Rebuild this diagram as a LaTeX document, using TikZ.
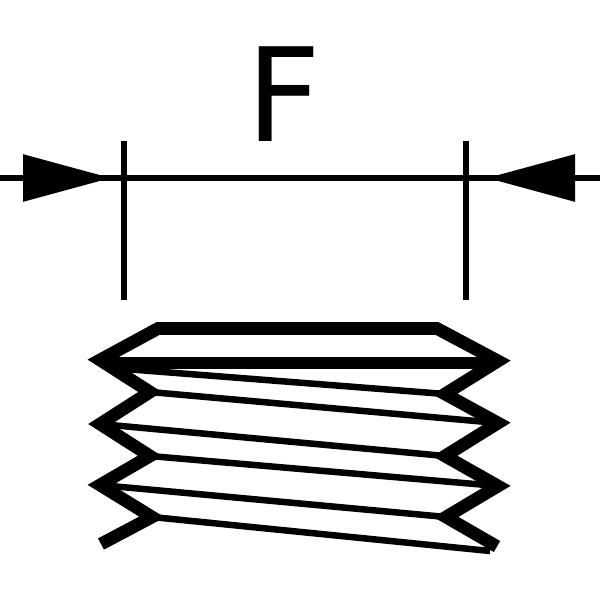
\documentclass[tikz,border=0pt]{standalone}
\usepackage{fontspec}
\setmainfont{DejaVu Sans}
\usetikzlibrary{arrows.meta}
\tikzset{
    dimline/.style={line width=6pt},
    dimarrow/.style={line width=6pt, -{Triangle[length=88pt, width=46pt]}},
    threadline/.style={line width=6.5pt},
    outline/.style={line width=12.7pt, miter limit=10},
}
\begin{document}
\begin{tikzpicture}[x=1pt, y=-1pt]
            \useasboundingbox (0,0) rectangle (608,605);

            \node[inner sep=0pt, font=\fontsize{130}{130}\selectfont] (F) at (284,94.5) {F};

            \coordinate (w) at (0,178);
            \coordinate (e) at (600,178);
            \coordinate (t1) at (111,178);
            \coordinate (t2) at (487,178);
            \coordinate (a1) at (124,141);
            \coordinate (b1) at (124,300);
            \coordinate (a2) at (466,141);
            \coordinate (b2) at (466,300);

            \draw[dimline] (w) -- (e);
            \draw[dimarrow] (w) -- (t1);
            \draw[dimarrow] (e) -- (t2);
            \draw[dimline] (a1) -- (b1);
            \draw[dimline] (a2) -- (b2);

            \coordinate (l0) at (158,328.5);
            \coordinate (l1) at (100,360);
            \coordinate (l2) at (150,392);
            \coordinate (l3) at (100,424);
            \coordinate (l4) at (150,456);
            \coordinate (l5) at (100,485);
            \coordinate (l6) at (152,517);
            \coordinate (l7) at (101,544);

            \coordinate (r0) at (437,328.5);
            \coordinate (r1) at (498,361);
            \coordinate (r2) at (445,394);
            \coordinate (r3) at (498,423);
            \coordinate (r4) at (445,456);
            \coordinate (r5) at (498,486);
            \coordinate (r6) at (446,517);
            \coordinate (r7) at (497,546.5);

            \coordinate (s0) at (125,369);
            \coordinate (s1) at (490,551);

            \draw[threadline] (s0) -- (r2);
            \draw[threadline] (l2) -- (r3);
            \draw[threadline] (l3) -- (r4);
            \draw[threadline] (l4) -- (r5);
            \draw[threadline] (l5) -- (r6);
            \draw[threadline] (l6) -- (s1);

            \draw[outline] (l1) ++(12,3) -- (486,363);
            \draw[outline] (l7) -- (l6) -- (l5) -- (l4) -- (l3) -- (l2) -- (l1) -- (l0)
                -- (r0) -- (r1) -- (r2) -- (r3) -- (r4) -- (r5) -- (r6) -- (r7);
        \end{tikzpicture}
\end{document}
